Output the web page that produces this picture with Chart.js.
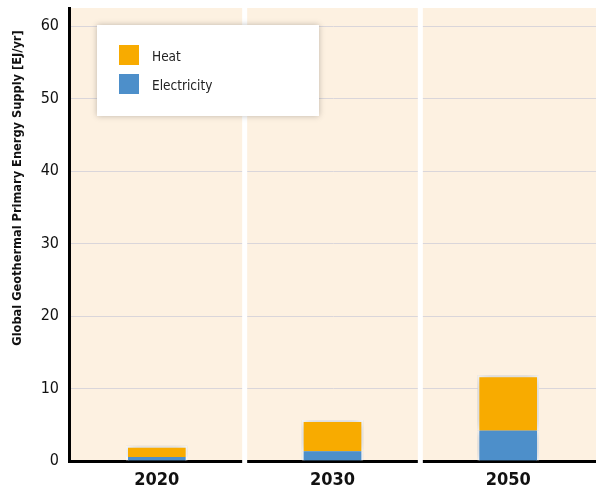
<!DOCTYPE html>
<html lang="en">
<head>
    <meta charset="UTF-8">
    <title>Global Geothermal Primary Energy Supply</title>
    <style>
        html, body {
            margin: 0;
            padding: 0;
            background: #FFFFFF;
        }
        .chart-container {
            position: relative;
            width: 596px;
            height: 491px;
        }
    </style>
</head>
<body>
    <div class="chart-container">
        <canvas id="geoChart"></canvas>
    </div>

    <script src="https://cdn.jsdelivr.net/npm/chart.js"></script>
    <script>
        // Data
        const years = ['2020', '2030', '2050'];
        const electricity = [0.55, 1.35, 4.2];
        const heat = [1.5, 4.25, 7.6];
        const yTicks = [0, 10, 20, 30, 40, 50, 60];
        const yTitle = 'Global Geothermal Primary Energy Supply [EJ/yr]';

        const FONT = "'Liberation Sans Narrow', 'DejaVu Sans Condensed', Arial, sans-serif";
        const PANEL = '#FDF1E1';

        // cream panel behind everything
        const panelBg = {
            id: 'panelBg',
            beforeDraw(chart) {
                const { ctx, chartArea: a } = chart;
                ctx.save();
                ctx.fillStyle = PANEL;
                ctx.fillRect(a.left, a.top, a.right - a.left, a.bottom - a.top);
                ctx.restore();
            }
        };

        // white gaps between the year panels, cutting grid and baseline
        const panelGaps = {
            id: 'panelGaps',
            beforeDatasetsDraw(chart) {
                const { ctx, chartArea: a, scales } = chart;
                const x = scales.x;
                ctx.save();
                ctx.fillStyle = '#FFFFFF';
                for (let i = 0; i < years.length - 1; i++) {
                    const mid = (x.getPixelForValue(i) + x.getPixelForValue(i + 1)) / 2;
                    ctx.fillRect(mid - 2.5, a.top - 2, 5, a.bottom - a.top + 6);
                }
                ctx.restore();
            }
        };

        // soft shadow under the bars
        const barShadow = {
            id: 'barShadow',
            beforeDatasetDraw(chart) {
                const ctx = chart.ctx;
                ctx.save();
                ctx.shadowColor = 'rgba(0,0,0,0.28)';
                ctx.shadowBlur = 12;
            },
            afterDatasetDraw(chart) {
                chart.ctx.restore();
            }
        };

        // y title sits above the axis middle in the original, so draw it by hand
        const axisTitle = {
            id: 'axisTitle',
            afterDraw(chart) {
                const ctx = chart.ctx;
                ctx.save();
                ctx.translate(18, 188);
                ctx.rotate(-Math.PI / 2);
                ctx.font = 'bold 12.7px ' + FONT;
                ctx.textAlign = 'center';
                ctx.textBaseline = 'middle';
                ctx.fillStyle = '#111111';
                ctx.fillText(yTitle, 0, 0);
                ctx.restore();
            }
        };

        // boxed legend in the upper left of the plot
        const boxLegend = {
            id: 'boxLegend',
            afterDraw(chart) {
                const ctx = chart.ctx;
                const bx = 97, by = 25, bw = 222, bh = 91;
                ctx.save();
                ctx.shadowColor = 'rgba(0,0,0,0.25)';
                ctx.shadowBlur = 6;
                ctx.fillStyle = '#FFFFFF';
                ctx.fillRect(bx, by, bw, bh);
                ctx.restore();

                const items = [chart.data.datasets[1], chart.data.datasets[0]];
                ctx.save();
                ctx.font = '13.5px ' + FONT;
                ctx.textBaseline = 'middle';
                items.forEach((ds, i) => {
                    const sy = 45 + i * 29;
                    ctx.fillStyle = ds.backgroundColor;
                    ctx.fillRect(119, sy, 20, 20);
                    ctx.fillStyle = '#222222';
                    ctx.fillText(ds.label, 152, sy + 12);
                });
                ctx.restore();
            }
        };

        const ctx = document.getElementById('geoChart').getContext('2d');
        new Chart(ctx, {
            type: 'bar',
            data: {
                labels: years,
                datasets: [
                    {
                        label: 'Electricity',
                        data: electricity,
                        backgroundColor: '#4D8FCA',
                        borderColor: '#FFFFFF',
                        borderWidth: { top: 0, left: 2, right: 2, bottom: 0 },
                        borderSkipped: false,
                        barThickness: 61
                    },
                    {
                        label: 'Heat',
                        data: heat,
                        backgroundColor: '#F8AB00',
                        borderColor: '#FFFFFF',
                        borderWidth: { top: 2, left: 2, right: 2, bottom: 0 },
                        borderSkipped: false,
                        barThickness: 61
                    }
                ]
            },
            options: {
                responsive: true,
                maintainAspectRatio: false,
                animation: false,
                layout: { padding: { top: 8, right: 0, left: 0, bottom: 0 } },
                plugins: {
                    legend: { display: false },
                    tooltip: { enabled: false }
                },
                scales: {
                    x: {
                        stacked: true,
                        grid: { display: false, drawTicks: false },
                        border: { display: true, color: '#000000', width: 3 },
                        ticks: {
                            color: '#111111',
                            padding: 9,
                            font: { family: FONT, size: 18, weight: 'bold' }
                        },
                        afterFit(scale) {
                            scale.height = 30;
                            scale.paddingLeft = 0;
                            scale.paddingRight = 0;
                        }
                    },
                    y: {
                        stacked: true,
                        min: 0,
                        max: 62.5,
                        afterBuildTicks(scale) {
                            scale.ticks = yTicks.map(v => ({ value: v }));
                        },
                        grid: { color: '#DAD6DA', lineWidth: 1, drawTicks: false },
                        border: { display: true, color: '#000000', width: 3 },
                        ticks: {
                            color: '#111111',
                            padding: 10,
                            font: { family: FONT, size: 16 }
                        },
                        afterFit(scale) {
                            scale.width = 69;
                            scale.paddingTop = 0;
                            scale.paddingBottom = 0;
                        }
                    }
                }
            },
            plugins: [panelBg, panelGaps, barShadow, axisTitle, boxLegend]
        });
    </script>
</body>
</html>
